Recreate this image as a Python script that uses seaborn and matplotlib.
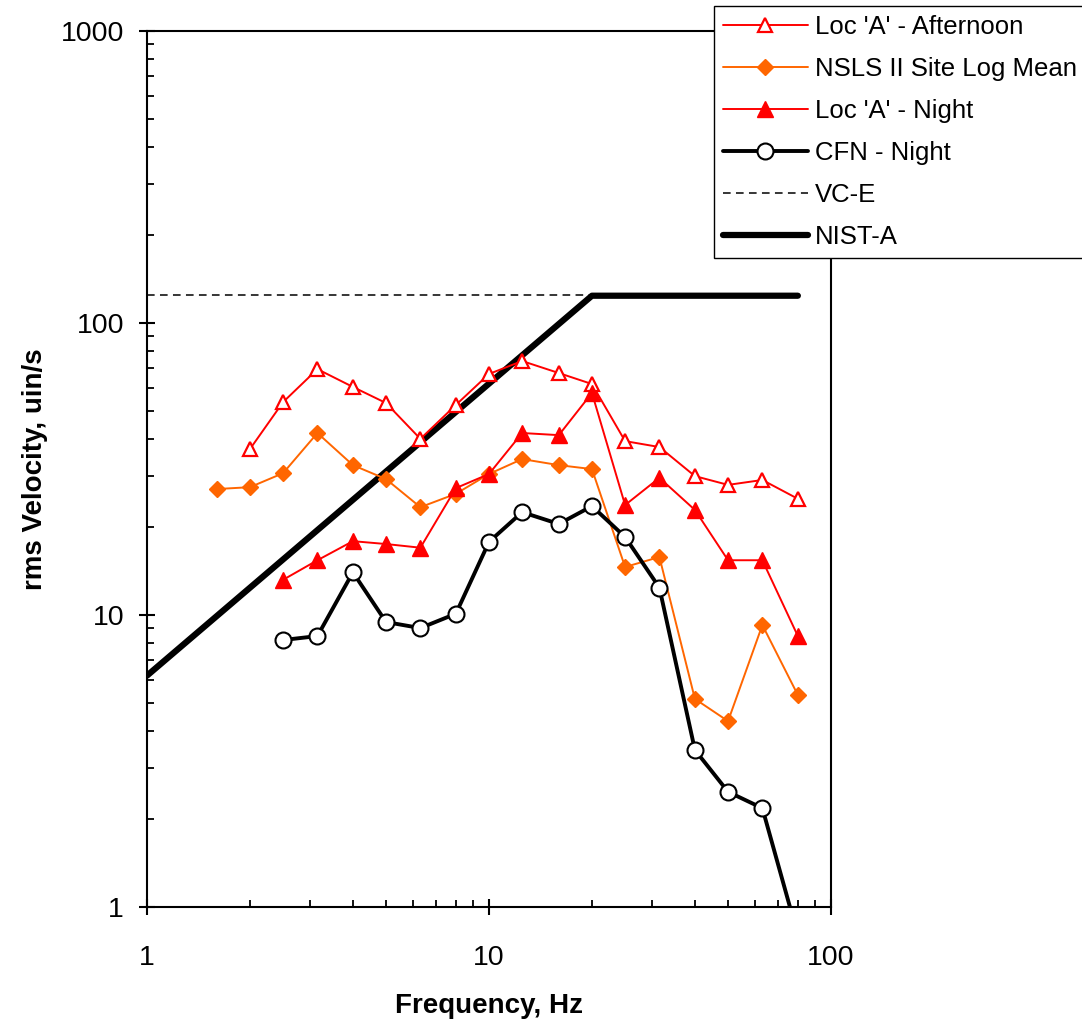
import numpy as np
import pandas as pd
import matplotlib
matplotlib.use("Agg")
import matplotlib.pyplot as plt
import matplotlib.ticker as mticker
import seaborn as sns

# one-third octave band centre frequencies, Hz
freq_all = [1.6, 2, 2.5, 3.15, 4, 5, 6.3, 8, 10, 12.5, 16, 20, 25, 31.5, 40, 50, 63, 80]

# Loc 'A' - Afternoon (2 - 80 Hz)
freq_aft = [2, 2.5, 3.15, 4, 5, 6.3, 8, 10, 12.5, 16, 20, 25, 31.5, 40, 50, 63, 80]
vel_aft = [37.0, 53.6, 69.5, 60.4, 53.2, 40.1, 52.4, 66.9, 74.1, 67.4, 61.8, 39.4, 37.6, 29.9, 27.9, 29.0, 25.0]

# NSLS II Site Log Mean (1.6 - 80 Hz)
vel_nsls = [27.0, 27.4, 30.6, 42.0, 32.6, 29.2, 23.4, 26.0, 30.4, 34.2, 32.6, 31.6, 14.6, 15.8, 5.16, 4.33, 9.24, 5.32]

# Loc 'A' - Night (2.5 - 80 Hz)
freq_night = [2.5, 3.15, 4, 5, 6.3, 8, 10, 12.5, 16, 20, 25, 31.5, 40, 50, 63, 80]
vel_night = [13.2, 15.4, 17.9, 17.5, 17.0, 27.2, 30.4, 42.0, 41.3, 57.6, 23.8, 29.5, 22.9, 15.4, 15.4, 8.47]

# CFN - Night (2.5 - 80 Hz)
vel_cfn = [8.21, 8.47, 14.0, 9.46, 9.02, 10.1, 17.8, 22.5, 20.5, 23.6, 18.5, 12.4, 3.45, 2.48, 2.18, 0.8]

# criteria
freq_vce = [1, 80]
vel_vce = [125, 125]
freq_nist = [1, 20, 80]
vel_nist = [6.2, 124, 124]

sns.set_style("white")
plt.rcParams['font.family'] = ['Liberation Sans', 'DejaVu Sans']
plt.rcParams.update({"text.color": "black", "axes.labelcolor": "black",
                     "xtick.color": "black", "ytick.color": "black"})

fig = plt.figure(figsize=(10.82, 10.25), dpi=100)
ax = fig.add_axes([147 / 1082, 1 - 907 / 1025, (831 - 147) / 1082, (907 - 31) / 1025])

red = "#FF0000"
orange = "#FF6600"

sns.lineplot(x=freq_aft, y=vel_aft, ax=ax, color=red, lw=1.4, marker="^", markersize=10.5,
             markerfacecolor="white", markeredgecolor=red, markeredgewidth=1.6,
             label="Loc 'A' - Afternoon", zorder=5)
sns.lineplot(x=freq_all, y=vel_nsls, ax=ax, color=orange, lw=1.4, marker="D", markersize=8,
             markerfacecolor=orange, markeredgecolor=orange, markeredgewidth=1,
             label="NSLS II Site Log Mean", zorder=4)
sns.lineplot(x=freq_night, y=vel_night, ax=ax, color=red, lw=1.4, marker="^", markersize=11,
             markerfacecolor=red, markeredgecolor=red, markeredgewidth=1,
             label="Loc 'A' - Night", zorder=5)
sns.lineplot(x=freq_night, y=vel_cfn, ax=ax, color="black", lw=2.8, marker="o", markersize=11.5,
             markerfacecolor="white", markeredgecolor="black", markeredgewidth=1.5,
             label="CFN - Night", zorder=6)
sns.lineplot(x=freq_vce, y=vel_vce, ax=ax, color="black", lw=1.1, linestyle=(0, (5, 3.5)),
             label="VC-E", zorder=2)
sns.lineplot(x=freq_nist, y=vel_nist, ax=ax, color="black", lw=4.5,
             label="NIST-A", zorder=3)

ax.set_xscale("log")
ax.set_yscale("log")
ax.set_xlim(1, 100)
ax.set_ylim(1, 1000)

fmt = mticker.FuncFormatter(lambda v, p: f"{v:g}")
ax.xaxis.set_major_formatter(fmt)
ax.yaxis.set_major_formatter(fmt)
ax.xaxis.set_minor_formatter(mticker.NullFormatter())
ax.yaxis.set_minor_formatter(mticker.NullFormatter())
ax.xaxis.set_minor_locator(mticker.LogLocator(base=10, subs=np.arange(2, 10)))
ax.yaxis.set_minor_locator(mticker.LogLocator(base=10, subs=np.arange(2, 10)))

ax.tick_params(which="major", direction="inout", length=11, width=1.5, labelsize=20.5, pad=11,
               colors="black", bottom=True, left=True, top=False, right=False)
ax.tick_params(which="minor", direction="in", length=5, width=1.3,
               bottom=True, left=True, top=False, right=False)
ax.tick_params(axis="x", which="major", pad=22)

for s in ax.spines.values():
    s.set_color("black")
    s.set_linewidth(1.5)

ax.set_xlabel("Frequency, Hz", fontsize=20, fontweight="bold", labelpad=16, color="black")
ax.set_ylabel("rms Velocity, uin/s", fontsize=20, fontweight="bold", labelpad=9, color="black")

leg = ax.legend(loc="upper left", bbox_to_anchor=(714 / 1082, 1 - 6 / 1025),
                bbox_transform=fig.transFigure, fontsize=18.5, frameon=True, fancybox=False,
                shadow=False, framealpha=1, edgecolor="black", handlelength=3.3,
                handletextpad=0.27, labelspacing=0.7, borderpad=0.35, borderaxespad=0)
leg.get_frame().set_linewidth(1.0)
leg.set_zorder(10)
for t in leg.get_texts():
    t.set_color("black")

fig.savefig("out.png", dpi=100)
